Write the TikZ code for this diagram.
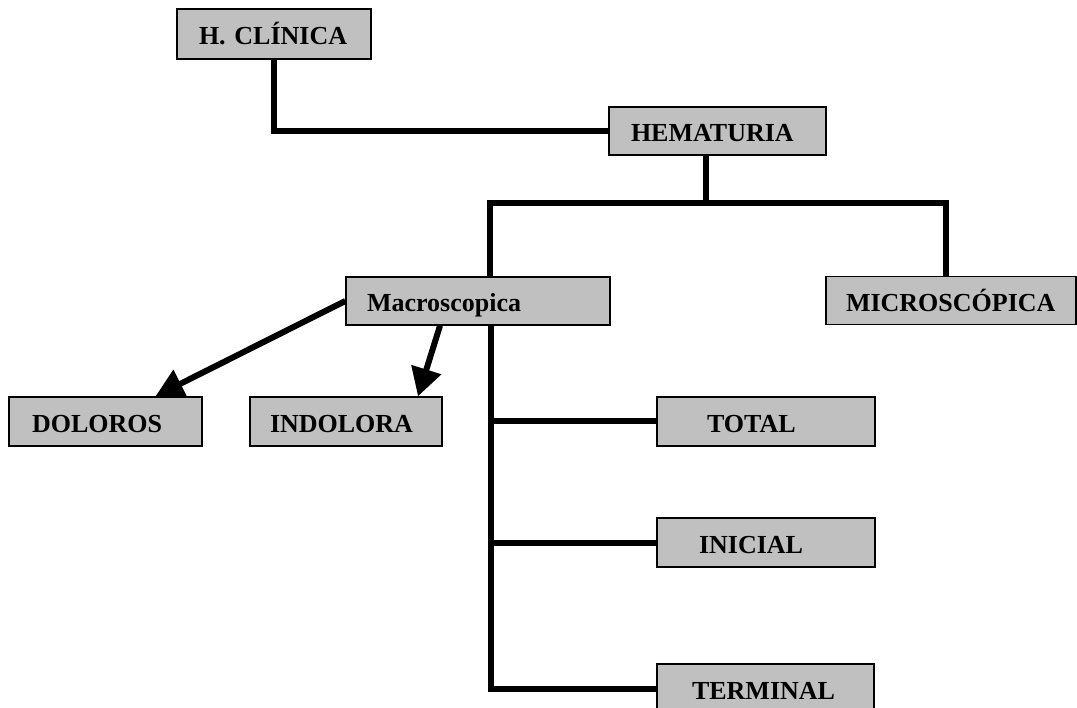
\documentclass[tikz,border=0pt]{standalone}
\usepackage{fontspec}
\setmainfont{Liberation Serif}
\usetikzlibrary{arrows.meta}
\definecolor{boxgray}{HTML}{C0C0C0}
\begin{document}
\begin{tikzpicture}[x=1pt,y=-1pt,
  box/.style={draw=black, fill=boxgray, line width=1.4pt, rectangle, align=left,
    minimum height=48pt, inner ysep=0pt, text height=22pt, text depth=0pt,
    font=\fontsize{26}{30}\selectfont\bfseries},
  conn/.style={line width=6pt, line join=miter, draw=black},
  arr/.style={line width=6pt, draw=black, -{Triangle[length=28pt,width=30pt]}}]
\useasboundingbox (0,0) rectangle (1077,708);
\node[box, text width=150pt, inner xsep=22pt, minimum height=50pt] (h) at (274,34) {H. CLÍNICA};
\node[box, text width=173pt, inner xsep=22pt] (hem) at (717.5,131) {HEMATURIA};
\node[box, text width=222pt, inner xsep=21pt] (mac) at (478,301) {Macroscopica};
\node[box, text width=210pt, inner xsep=20pt] (mic) at (951,300.5) {MICROSCÓPICA};
\node[box, text width=147pt, inner xsep=23pt, minimum height=49pt] (dol) at (105.5,421.5) {DOLOROS};
\node[box, text width=152pt, inner xsep=20pt, minimum height=49pt] (ind) at (346,421.5) {INDOLORA};
\node[box, text width=118pt, inner xsep=50pt, minimum height=49pt] (tot) at (766,421.5) {TOTAL};
\node[box, text width=134pt, inner xsep=42pt, minimum height=49pt] (ini) at (766,542.5) {INICIAL};
\node[box, text width=147pt, inner xsep=35pt, minimum height=49pt] (ter) at (765.5,688.5) {TERMINAL};
\coordinate (j) at (706,203);
\coordinate (jl) at (490,203);
\coordinate (jr) at (946,203);
\coordinate (v) at (491,400);
% connectors
\draw[conn] (h.south) |- (hem.west);
\draw[conn] (hem.south -| j) -- (j);
\draw[conn] (mac.north -| jl) -- (jl) -- (jr) -- (mic.north -| jr);
\draw[conn] (mac.south -| v) |- (ter.west);
\draw[conn] (tot.west -| v) -- (tot.west);
\draw[conn] (ini.west -| v) -- (ini.west);
\draw[arr] (mac.west) -- ([xshift=50pt]dol.north);
\draw[arr] ([xshift=-38pt]mac.south) -- ([xshift=72pt]ind.north);
\end{tikzpicture}
\end{document}
